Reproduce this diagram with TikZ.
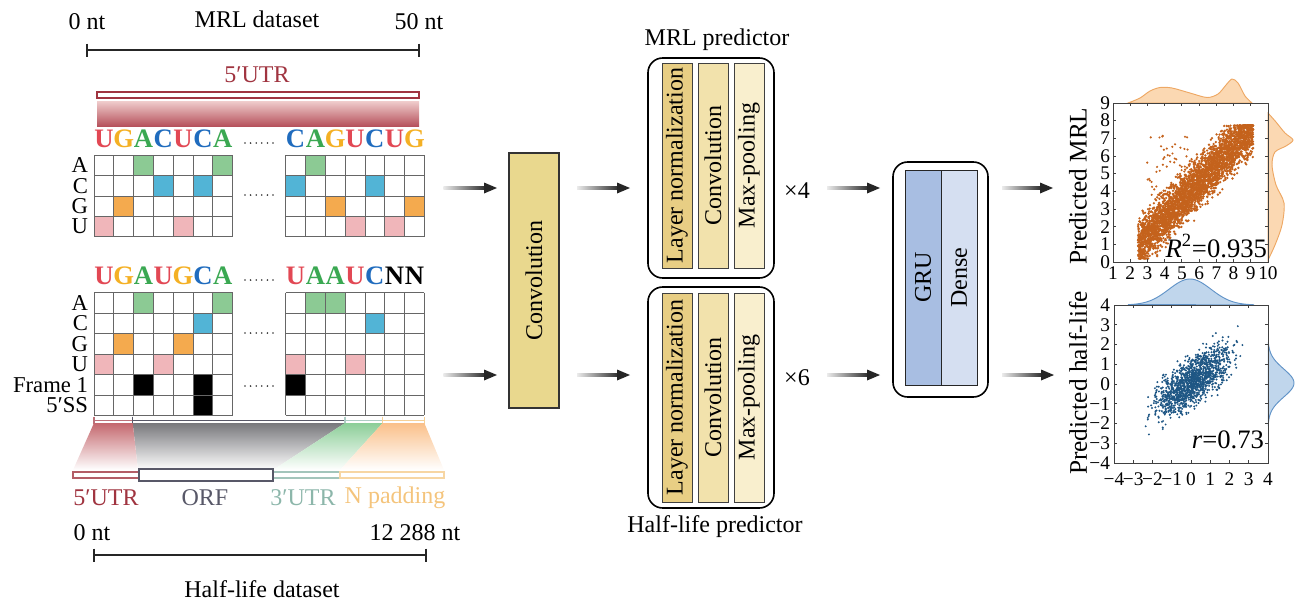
\documentclass[tikz,border=0pt]{standalone}
\usepackage{fontspec}
\setmainfont{Liberation Serif}
\usetikzlibrary{calc}
\definecolor{cA}{RGB}{140,202,148}
\definecolor{cC}{RGB}{82,180,214}
\definecolor{cG}{RGB}{244,170,78}
\definecolor{cU}{RGB}{240,182,186}
\definecolor{lU}{RGB}{226,72,84}
\definecolor{lG}{RGB}{244,176,36}
\definecolor{lA}{RGB}{58,168,82}
\definecolor{lC}{RGB}{32,108,190}
\definecolor{utr5}{RGB}{160,52,64}
\definecolor{orfc}{RGB}{88,88,104}
\definecolor{utr3}{RGB}{140,182,170}
\definecolor{padc}{RGB}{244,196,124}
\definecolor{convc}{RGB}{233,216,142}
\definecolor{barA}{RGB}{232,206,132}
\definecolor{barB}{RGB}{242,226,172}
\definecolor{barC}{RGB}{249,239,206}
\definecolor{gruc}{RGB}{168,190,226}
\definecolor{densec}{RGB}{213,223,241}
\definecolor{mrlpt}{RGB}{196,98,28}
\definecolor{hlpt}{RGB}{30,86,132}
\definecolor{margOf}{RGB}{251,216,178}
\definecolor{margOd}{RGB}{238,168,100}
\definecolor{margBf}{RGB}{192,214,236}
\definecolor{margBd}{RGB}{98,148,200}
\newcommand\fsz[1]{\fontsize{#1}{#1}\selectfont}
\def\cw{19.8}
\def\ch{20.45}
\newcommand\fc[5]{\fill[#5] ({#1+#3*\cw},{#2+#4*\ch}) rectangle ++(\cw,\ch);}
\newcommand\gridlines[4]{%
  \foreach \i in {0,...,#3}{\draw[gridline] ({#1+\i*\cw},#2) -- ++(0,{#4*\ch});}
  \foreach \j in {0,...,#4}{\draw[gridline] (#1,{#2+\j*\ch}) -- ++({#3*\cw},0);}}
\newcommand\garrow[2]{%
  \shade[left color=black!8,right color=black!85] ($(#1)+(0,-1.5)$) rectangle ($(#2)+(-10,1.5)$);
  \fill[black!85] ($(#2)+(-13,-5.5)$) -- (#2) -- ($(#2)+(-13,5.5)$) -- cycle;}
\newcommand\sixdots[2]{\foreach \k in {0,...,5}{\fill[black!80] ({#1+5.6*\k},#2) circle (0.9);}}
\tikzset{
  every node/.style={inner sep=0pt,outer sep=0pt},
  gridline/.style={draw=black!60,line width=0.6pt},
  scalebar/.style={draw=black!85,line width=1.4pt},
  lbl/.style={font=\fsz{18}},
  rowlbl/.style={font=\fsz{17},anchor=east},
  seqlbl/.style={font=\fsz{20}\bfseries},
  convbox/.style={draw=black!80,line width=0.8pt,fill=convc},
  outerbox/.style={draw=black,line width=1.2pt,rounded corners=11pt,fill=white},
  barbox/.style={draw=black!75,line width=0.6pt},
  frame/.style={draw=black!75,line width=0.7pt},
  ticklbl/.style={font=\fsz{14.5}},
  thinbar/.style={line width=0.9pt,fill=white},
}
\begin{document}
\begin{tikzpicture}[x=0.75pt,y=-0.75pt]
\useasboundingbox (0,0) rectangle (1296,600);

% ---------- MRL dataset (top left) ----------
\node[lbl] (t0a) at (87,22) {0 nt};
\node[lbl] (t50) at (419,22) {50 nt};
\node[lbl] (tmrl) at (257,19) {MRL dataset};
\draw[scalebar] (87,50) -- (419,50);
\draw[scalebar] (87,43.5) -- (87,56.5);
\draw[scalebar] (419,43.5) -- (419,56.5);
\node[lbl,text=utr5] (tutr) at (257,75) {5′UTR};
\draw[thinbar,draw=utr5] (97,92) rectangle (419,98);
\shade[top color={rgb,255:red,240;green,205;blue,205},bottom color={rgb,255:red,182;green,82;blue,92}] (97,101) rectangle (419,126);

% sequence letters top
\foreach \L/\C [count=\k from 0] in {U/lU,G/lG,A/lA,C/lC,U/lU,C/lC,A/lA}
  {\node[seqlbl,text=\C] (sa\k) at ({94+(\k+0.5)*\cw},139) {\L};}
\foreach \L/\C [count=\k from 0] in {C/lC,A/lA,G/lG,U/lU,C/lC,U/lU,G/lG}
  {\node[seqlbl,text=\C] (sb\k) at ({285.7+(\k+0.5)*\cw},139) {\L};}
\sixdots{245}{143}
% grid 1
\foreach \c/\r/\k in {0/3/cU,1/2/cG,2/0/cA,3/1/cC,4/3/cU,5/1/cC,6/0/cA}{\fc{94}{155}{\c}{\r}{\k}}
\foreach \c/\r/\k in {0/1/cC,1/0/cA,2/2/cG,3/3/cU,4/1/cC,5/3/cU,6/2/cG}{\fc{285.7}{155}{\c}{\r}{\k}}
\gridlines{94}{155}{7}{4}
\gridlines{285.7}{155}{7}{4}
\sixdots{245}{195}
\foreach \L [count=\k from 0] in {A,C,G,U}
  {\node[rowlbl] (ra\k) at (88,{155+(\k+0.5)*\ch}) {\L};}

% ---------- Half-life grid ----------
\foreach \L/\C [count=\k from 0] in {U/lU,G/lG,A/lA,U/lU,G/lG,C/lC,A/lA}
  {\node[seqlbl,text=\C] (sc\k) at ({94+(\k+0.5)*\cw},276) {\L};}
\foreach \L/\C [count=\k from 0] in {U/lU,A/lA,A/lA,U/lU,C/lC,N/black,N/black}
  {\node[seqlbl,text=\C] (sd\k) at ({285.7+(\k+0.5)*\cw},276) {\L};}
\sixdots{245}{280}
\foreach \c/\r/\k in {0/3/cU,1/2/cG,2/0/cA,3/3/cU,4/2/cG,5/1/cC,6/0/cA,2/4/black,5/4/black,5/5/black}{\fc{94}{292.7}{\c}{\r}{\k}}
\foreach \c/\r/\k in {0/3/cU,1/0/cA,2/0/cA,3/3/cU,4/1/cC,0/4/black}{\fc{285.7}{292.7}{\c}{\r}{\k}}
\gridlines{94}{292.7}{7}{6}
\gridlines{285.7}{292.7}{7}{6}
\sixdots{245}{333}
\sixdots{245}{386}
\foreach \L [count=\k from 0] in {A,C,G,U,Frame 1,5′SS}
  {\node[rowlbl] (rb\k) at (88,{292.7+(\k+0.5)*\ch}) {\L};}

% brackets under grid 2
\foreach \a/\b/\k in {94/132.7/utr5!70,132.7/345/orfc,345/382.7/utr3!70,382.7/424.3/padc!80}{
  \draw[\k,line width=0.9pt] (\a,420.5) -- (\b,420.5);
  \draw[\k,line width=0.9pt] (\a,416.5) -- (\a,424);
  \draw[\k,line width=0.9pt] (\b,416.5) -- (\b,424);}
% trapezoids
\shade[top color={rgb,255:red,120;green,120;blue,124},bottom color=white] (132.7,423) -- (345,423) -- (273,470) -- (138,470) -- cycle;
\shade[top color={rgb,255:red,140;green,206;blue,152},bottom color=white] (345,423) -- (382.7,423) -- (340,470) -- (273,470) -- cycle;
\shade[top color={rgb,255:red,250;green,192;blue,138},bottom color=white] (382.7,423) -- (424.3,423) -- (444,470) -- (340,470) -- cycle;
\shade[top color={rgb,255:red,196;green,104;blue,110},bottom color=white] (94,423) -- (132.7,423) -- (138,470) -- (73,470) -- cycle;
% bottom bars
\draw[thinbar,draw=utr5!80] (73,472) rectangle (139,478);
\draw[thinbar,draw=utr3!80] (273,472) rectangle (340,478);
\draw[thinbar,draw=padc!70] (340,472) rectangle (444,478);
\draw[thinbar,draw=orfc] (139,469) rectangle (273,481);
\node[lbl,text=utr5] (l5) at (106,498) {5′UTR};
\node[lbl,text=orfc] (lorf) at (205,498) {ORF};
\node[lbl,text=utr3] (l3) at (303,498) {3′UTR};
\node[lbl,text=padc] (lpad) at (395,498) {N padding};
\node[lbl] (b0) at (92,533) {0 nt};
\node[lbl] (b12) at (415,533) {12 288 nt};
\draw[scalebar] (94,555) -- (426,555);
\draw[scalebar] (94,548.5) -- (94,561.5);
\draw[scalebar] (426,548.5) -- (426,561.5);
\node[lbl] (thl) at (262,589) {Half-life dataset};

% ---------- Convolution ----------
\node[convbox,minimum width=37.5pt,minimum height=191.25pt] (conv) at (534,280.5) {};
\node[lbl,rotate=90] (convt) at (conv.center) {Convolution};

% ---------- predictors ----------
\node[outerbox,minimum width=94.5pt,minimum height=165pt] (p1) at (711,168) {};
\node[outerbox,minimum width=94.5pt,minimum height=165.75pt] (p2) at (711,397.5) {};
\foreach \n/\cx/\col/\txt in {a/677/barA/Layer normalization,b/713/barB/Convolution,c/749/barC/Max-pooling}{
  \node[barbox,fill=\col,minimum width=22.5pt,minimum height=153.75pt] (m\n) at (\cx,165.5) {};
  \node[lbl,rotate=90] (mt\n) at (m\n.center) {\txt};
  \node[barbox,fill=\col,minimum width=22.5pt,minimum height=156.75pt] (h\n) at (\cx,397.5) {};
  \node[lbl,rotate=90] (ht\n) at (h\n.center) {\txt};}
\node[lbl] (tp1) at (717,40) {MRL predictor};
\node[lbl] (tp2) at (715,527) {Half-life predictor};
\node[lbl] (x4) at (797,191) {×4};
\node[lbl] (x6) at (797,378) {×6};

% ---------- GRU ----------
\node[outerbox,minimum width=71.25pt,minimum height=176.25pt] (gru) at (940.5,279.5) {};
\node[barbox,draw=black!85,fill=gruc,minimum width=27pt,minimum height=161.25pt] (grub) at (923,277.5) {};
\node[barbox,draw=black!85,fill=densec,minimum width=27pt,minimum height=161.25pt] (denb) at (959,277.5) {};
\node[lbl,rotate=90] (grut) at (grub.center) {GRU};
\node[lbl,rotate=90] (dent) at (denb.center) {Dense};

% ---------- MRL scatter ----------
\filldraw[fill=margOf,draw=margOd,line width=0.7pt] plot[smooth] coordinates {(1128,103) (1140,98) (1150,91) (1160,87.5) (1172,88) (1190,93) (1207,97.5) (1218,94) (1226,85) (1232,79) (1238,83) (1245,96) (1252,103)} -- cycle;
\filldraw[fill=margOf,draw=margOd,line width=0.7pt] plot[smooth] coordinates {(1268,113) (1276,122) (1285,133) (1293,140) (1286,146) (1275,152) (1272,165) (1276,185) (1284,203) (1282,225) (1275,245) (1268,260)} -- cycle;
\pgfmathsetseed{7}
\begin{scope}
\clip (1113,103) rectangle (1268,262);
\foreach \i in {1,...,3400}{
  \pgfmathsetmacro\u{2.45+6.7*rnd}
  \pgfmathsetmacro\v{max(0.2,min(7.72,\u-1.5+0.68*(rand+rand+rand)))}
  \fill[mrlpt] ({1113+17.22*(\u-1)},{262-17.67*\v}) circle (1.3);}
\foreach \i in {1,...,55}{
  \pgfmathsetmacro\u{2.9+2.8*rnd}
  \pgfmathsetmacro\v{3.6+3.6*rnd}
  \fill[mrlpt] ({1113+17.22*(\u-1)},{262-17.67*\v}) circle (1.2);}
\end{scope}
\node[frame,minimum width=116.25pt,minimum height=119.25pt] (box1) at (1190.5,182.5) {};
\foreach \v in {2,...,9}{
  \draw[frame] ({1113+17.22*(\v-1)},262) -- ++(0,-3);
  \draw[frame] ({1113+17.22*(\v-1)},103) -- ++(0,3);}
\foreach \v in {1,...,8}{
  \draw[frame] (1113,{262-17.67*\v}) -- ++(3,0);
  \draw[frame] (1268,{262-17.67*\v}) -- ++(-3,0);}
\foreach \v in {1,...,10}{\node[ticklbl] (xa\v) at ({1113+17.22*(\v-1)},273) {\v};}
\foreach \v in {0,...,9}{\node[ticklbl,anchor=east] (ya\v) at (1110,{262-17.67*\v}) {\v};}
\node[font=\fsz{19},rotate=90] (ylab1) at (1078,186) {Predicted MRL};
\node[font=\fsz{20},anchor=east] (r2) at (1267,246) {\textit{R}\textsuperscript{2}=0.935};

% ---------- Half-life scatter ----------
\filldraw[fill=margBf,draw=margBd,line width=0.7pt] plot[domain=1128:1254,samples=50,smooth] (\x,{305-26*exp(-((\x-1190)/21)^2/2)}) -- cycle;
\filldraw[fill=margBf,draw=margBd,line width=0.7pt] plot[domain=342:426,samples=40,smooth] ({1268+26*exp(-((\x-383)/14)^2/2)},\x) -- cycle;
\begin{scope}
\clip (1114,305) rectangle (1268,463);
\foreach \i in {1,...,1400}{
  \pgfmathsetmacro\u{0.15+0.95*(rand+rand+rand)}
  \pgfmathsetmacro\v{0.1+0.62*\u+0.58*(rand+rand+rand)}
  \fill[hlpt] ({1191+19.25*\u},{384-19.75*\v}) circle (1.1);}
\end{scope}
\node[frame,minimum width=115.5pt,minimum height=118.5pt] (box2) at (1191,384) {};
\foreach \v in {-3,...,3}{
  \draw[frame] ({1191+19.25*\v},463) -- ++(0,-3);
  \draw[frame] ({1191+19.25*\v},305) -- ++(0,3);
  \draw[frame] (1114,{384-19.75*\v}) -- ++(3,0);
  \draw[frame] (1268,{384-19.75*\v}) -- ++(-3,0);}
\foreach \v/\s [count=\k] in {-4/−4,-3/−3,-2/−2,-1/−1,0/0,1/1,2/2,3/3,4/4}{
  \node[ticklbl] (xb\k) at ({1191+19.25*\v},479) {\s};
  \node[ticklbl,anchor=east] (yb\k) at (1110,{384-19.75*\v}) {\s};}
\node[font=\fsz{19},rotate=90] (ylab2) at (1078,383) {Predicted half-life};
\node[font=\fsz{20},anchor=east] (rr) at (1264,440) {\textit{r}=0.73};

% ---------- arrows ----------
\coordinate (g1) at (424.3,188);
\coordinate (g2) at (424.3,375);
\foreach \r in {1,2}{
  \coordinate (A\r) at ($(g\r)+(19,0)$);
  \coordinate (B\r) at ($(conv.west|-g\r)+(-12,0)$);
  \garrow{A\r}{B\r}
  \coordinate (C\r) at ($(conv.east|-g\r)+(18,0)$);
  \coordinate (D\r) at ($(p\r.west|-g\r)+(-18,0)$);
  \garrow{C\r}{D\r}
  \coordinate (E\r) at ($(p\r.east|-g\r)+(53,0)$);
  \coordinate (F\r) at ($(gru.west|-g\r)+(-13,0)$);
  \garrow{E\r}{F\r}
  \coordinate (G\r) at ($(gru.east|-g\r)+(14,0)$);
  \coordinate (H\r) at ($(box\r.west|-g\r)+(-60,0)$);
  \garrow{G\r}{H\r}}
\end{tikzpicture}
\end{document}
